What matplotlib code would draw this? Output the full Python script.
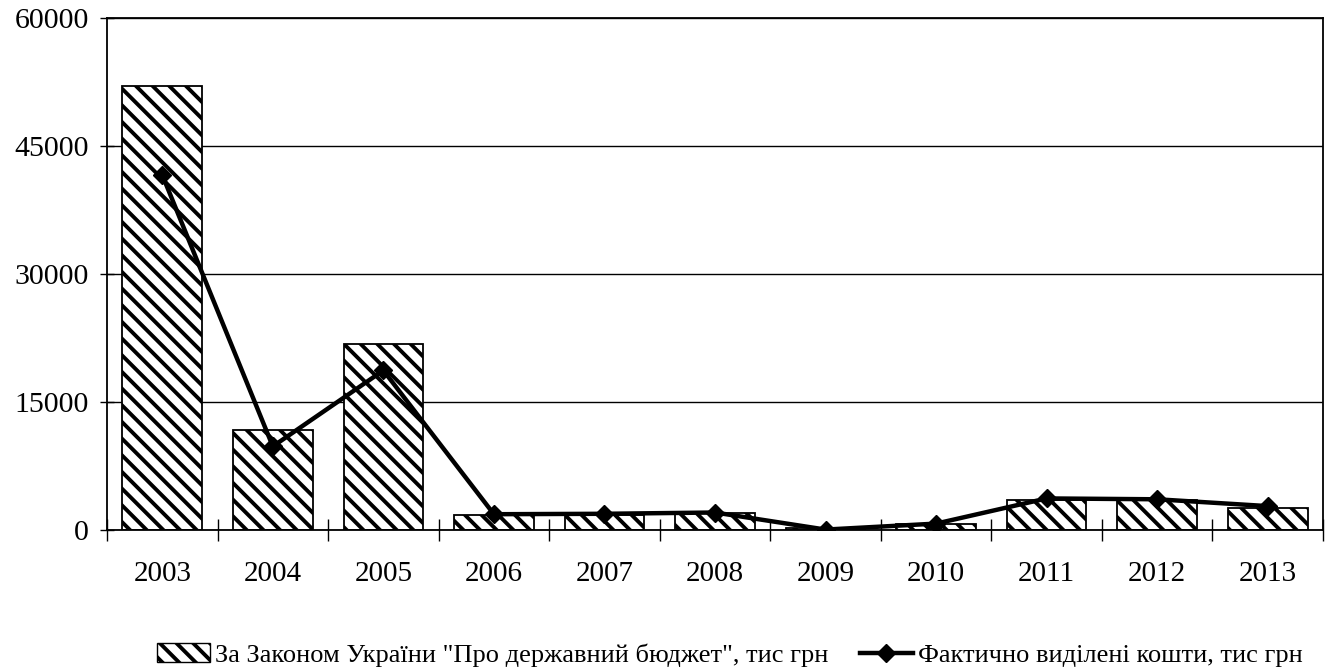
import matplotlib
matplotlib.use("Agg")
import matplotlib.pyplot as plt
from matplotlib.lines import Line2D
from matplotlib.patches import Patch
import numpy as np

years = ["2003", "2004", "2005", "2006", "2007", "2008", "2009", "2010", "2011", "2012", "2013"]
budget_law = [52000, 11700, 21800, 1800, 1800, 2000, 200, 700, 3500, 3500, 2600]
actual = [41600, 9800, 18700, 1850, 1900, 2050, 50, 750, 3700, 3600, 2800]
yticks = [0, 15000, 30000, 45000, 60000]
label_bar = 'За Законом України "Про державний бюджет", тис грн'
label_line = 'Фактично виділені кошти, тис грн'

plt.rcParams['font.family'] = ['Liberation Serif', 'DejaVu Serif']
plt.rcParams['hatch.linewidth'] = 2.8
plt.rcParams['hatch.color'] = 'black'

fig = plt.figure(figsize=(13.32, 6.70), dpi=100)
ax = fig.add_axes([107/1332, 1-530/670, (1323-107)/1332, (530-18)/670])

x = np.arange(len(years))
ax.bar(x, budget_law, width=0.72, facecolor='white', edgecolor='black',
       linewidth=1.3, hatch='\\\\', zorder=2)
ax.plot(x, actual, color='black', linewidth=3.2, marker='D', markersize=9,
        zorder=3)

ax.set_xlim(-0.5, len(years)-0.5)
ax.set_ylim(0, 60000)
ax.set_yticks(yticks)
ax.set_yticklabels([str(v) for v in yticks])
ax.yaxis.grid(True, color='black', linewidth=1.0, zorder=0)
ax.set_axisbelow(True)

ax.set_xticks(x)
ax.set_xticklabels(years)
ax.set_xticks(np.arange(-0.5, len(years)+0.5, 1), minor=True)
ax.tick_params(axis='x', which='major', length=0, pad=22, labelsize=21)
ax.tick_params(axis='x', which='minor', length=16, direction='inout', width=1)
ax.tick_params(axis='y', which='major', length=10, direction='inout', width=1,
               labelsize=21.5, pad=8)

for s in ax.spines.values():
    s.set_linewidth(1.3)
    s.set_color('black')

handles = [Patch(facecolor='white', edgecolor='black', hatch='\\\\', linewidth=1.0),
           Line2D([0], [0], color='black', linewidth=3.2, marker='D', markersize=9)]
fig.legend(handles, [label_bar, label_line], loc='center', ncol=2,
           bbox_to_anchor=(0.548, 1-655/670), frameon=False, fontsize=19,
           handlelength=2.0, handletextpad=0.2, columnspacing=1.2)

fig.savefig("out.png", dpi=100)
